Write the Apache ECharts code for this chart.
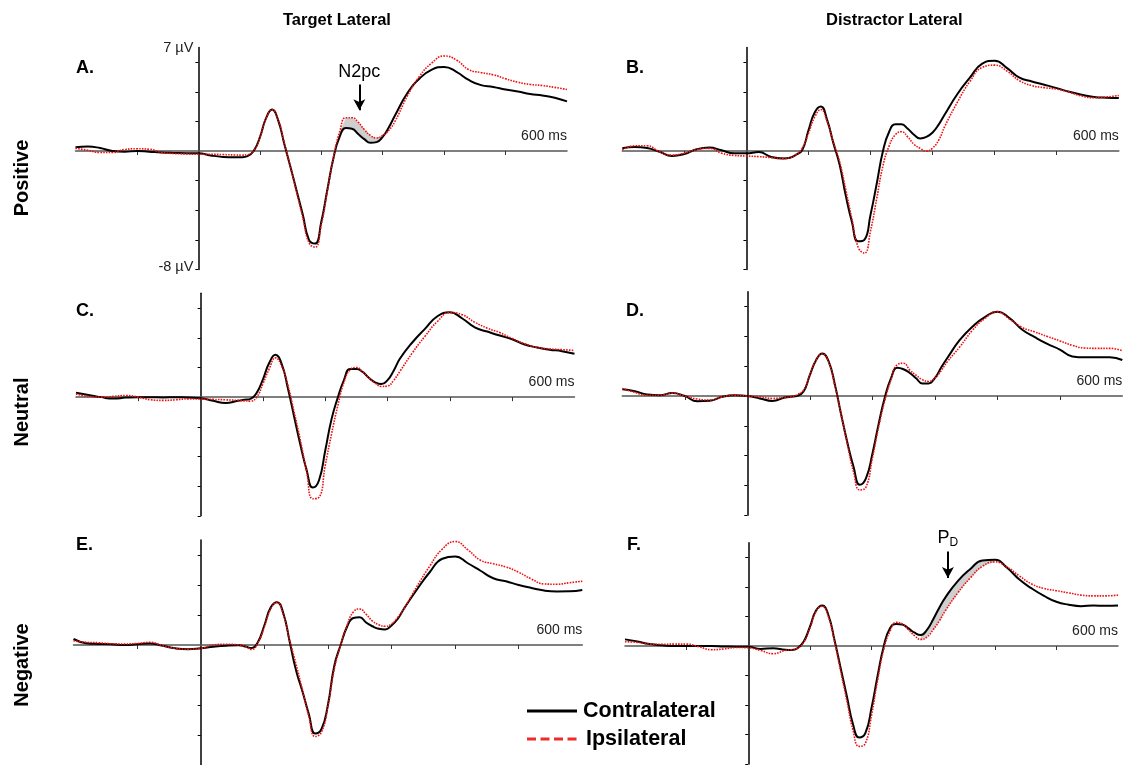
<!DOCTYPE html>
<html>
<head>
<meta charset="utf-8">
<script src="https://cdn.jsdelivr.net/npm/echarts@6/dist/echarts.min.js"></script>
<style>
html, body { margin: 0; padding: 0; background: #fff; }
#chart { width: 1125px; height: 765px; }
</style>
</head>
<body>
<div id="chart"></div>
<script>
// Sample times (ms) shared by every waveform
const times = [-200,-180,-160,-140,-120,-100,-80,-60,-40,-20,0,20,40,60,
  70,80,90,100,110,120,130,140,150,160,170,180,190,200,210,220,230,240,250,260,270,280,290,300,310,320,
  340,360,380,400,420,440,460,480,500,520,540,560,580,600];

// Amplitudes (µV) — Target Lateral / Positive
const contraA = [0.25,0.3,0.2,0.0,-0.05,0.0,-0.05,-0.1,-0.13,-0.15,-0.15,-0.3,-0.4,-0.43,
  -0.42,-0.35,0.0,0.9,2.2,2.8,2.05,0.45,-1.1,-2.7,-4.3,-6.0,-6.25,-4.8,-2.6,-0.45,0.97,1.55,1.5,1.15,0.8,0.55,0.6,0.95,1.6,2.4,
  3.9,4.9,5.5,5.68,5.35,4.8,4.45,4.33,4.15,4.02,3.85,3.75,3.6,3.35];
const ipsiA = [0.18,0.05,-0.1,-0.1,0.1,0.15,0.12,-0.1,-0.17,-0.2,-0.22,-0.22,-0.24,-0.27,
  -0.28,-0.25,0.0,0.9,2.2,2.8,2.1,0.5,-1.1,-2.8,-4.5,-6.2,-6.5,-5.0,-2.7,-0.4,1.3,2.25,2.25,1.95,1.45,1.05,0.88,1.05,1.4,2.0,
  3.7,5.05,5.95,6.42,6.15,5.5,5.3,5.15,4.88,4.65,4.5,4.42,4.3,4.15];

// Distractor Lateral / Positive
const contraB = [0.18,0.27,0.2,-0.05,-0.33,-0.2,0.12,0.23,0.05,-0.16,-0.16,-0.07,-0.4,-0.5,
  -0.45,-0.25,0.07,1.4,2.6,3.0,2.1,0.55,-0.9,-3.0,-4.8,-6.1,-6.0,-4.3,-2.2,0.0,1.3,1.8,1.8,1.5,1.1,0.85,0.95,1.25,1.8,2.5,
  3.85,4.95,5.9,6.1,5.6,4.95,4.7,4.48,4.25,4.0,3.8,3.65,3.6,3.58];
const ipsiB = [0.07,0.35,0.35,-0.05,-0.28,-0.15,0.1,0.18,-0.15,-0.3,-0.34,-0.38,-0.45,-0.5,
  -0.45,-0.25,0.2,1.2,2.3,2.8,2.0,0.6,-0.7,-2.6,-4.6,-6.5,-6.9,-5.4,-3.2,-1.0,0.35,1.1,1.3,0.95,0.45,0.18,-0.02,0.2,0.75,1.7,
  3.3,4.7,5.65,5.8,5.4,4.75,4.42,4.28,4.18,3.98,3.72,3.6,3.65,3.75];

// Target Lateral / Neutral
const contraC = [0.29,0.15,0.0,-0.1,-0.03,0.0,0.0,-0.02,0.0,-0.03,-0.07,-0.25,-0.4,-0.25,
  -0.18,-0.12,0.3,1.2,2.3,2.85,2.25,0.6,-1.3,-3.2,-4.9,-6.1,-5.6,-3.6,-1.5,-0.05,1.15,1.9,1.9,1.7,1.3,1.0,0.88,1.15,1.8,2.6,
  3.7,4.6,5.45,5.72,5.3,4.7,4.42,4.15,3.9,3.55,3.35,3.2,3.1,2.93];
const ipsiC = [0.22,0.05,0.0,0.05,0.11,0.0,-0.18,-0.22,-0.18,-0.12,-0.13,-0.15,-0.18,-0.22,
  -0.25,-0.27,0.0,0.9,1.9,2.65,2.1,0.8,-1.0,-2.9,-5.0,-6.85,-6.75,-4.6,-2.5,-0.6,1.0,1.85,2.0,1.72,1.3,0.95,0.72,0.75,1.15,1.75,
  3.0,4.1,5.1,5.7,5.55,5.05,4.65,4.35,3.95,3.6,3.35,3.25,3.2,3.15];

// Distractor Lateral / Neutral
const contraD = [0.45,0.32,0.1,0.05,0.2,0.0,-0.35,-0.32,-0.05,0.05,0.0,-0.16,-0.33,-0.1,
  -0.04,0.02,0.3,1.4,2.4,2.86,2.35,0.8,-1.2,-3.1,-4.74,-5.95,-5.5,-3.9,-1.9,-0.1,1.2,1.9,1.8,1.55,1.2,0.85,0.85,1.2,1.9,2.55,
  3.76,4.65,5.3,5.65,5.21,4.45,3.95,3.5,3.12,2.66,2.6,2.6,2.6,2.42];
const ipsiD = [0.51,0.25,0.05,0.05,0.2,0.0,-0.2,-0.27,-0.05,0.05,0.0,-0.05,-0.16,-0.1,
  -0.05,0.1,0.4,1.4,2.4,2.82,2.3,0.7,-1.2,-3.2,-5.1,-6.3,-6.1,-4.2,-2.1,-0.3,1.1,2.1,2.2,1.74,1.4,1.1,0.98,1.2,1.7,2.3,
  3.3,4.4,5.2,5.65,5.15,4.6,4.3,4.0,3.7,3.4,3.22,3.2,3.2,3.04];

// Target Lateral / Negative
const contraE = [0.4,0.12,0.07,0.05,0.0,0.05,0.1,-0.05,-0.22,-0.28,-0.22,-0.12,-0.05,-0.02,
  -0.1,-0.2,0.2,1.3,2.5,2.85,2.1,0.2,-1.7,-3.1,-4.6,-5.9,-5.6,-4.0,-1.4,0.0,1.2,1.8,1.85,1.5,1.25,1.08,1.03,1.3,1.75,2.45,
  3.7,4.85,5.75,5.9,5.45,4.95,4.45,4.25,4.0,3.8,3.63,3.57,3.58,3.67];
const ipsiE = [0.29,0.18,0.15,0.08,0.07,0.1,0.18,-0.05,-0.22,-0.28,-0.22,0.0,0.05,0.0,
  -0.1,-0.3,0.15,1.2,2.4,2.85,2.0,0.3,-1.3,-3.0,-4.75,-6.1,-5.8,-4.1,-1.6,0.0,1.3,2.2,2.4,2.05,1.6,1.35,1.25,1.4,1.85,2.45,
  3.9,5.25,6.4,6.9,6.35,5.65,5.42,5.2,4.85,4.4,4.07,4.05,4.15,4.25];

// Distractor Lateral / Negative
const contraF = [0.45,0.3,0.13,0.05,0.0,0.0,0.0,0.0,-0.03,-0.05,-0.05,-0.2,-0.15,-0.25,
  -0.27,-0.15,0.3,1.3,2.4,2.75,2.1,0.4,-1.5,-3.4,-5.3,-6.2,-5.9,-4.2,-2.0,0.0,1.2,1.5,1.45,1.2,0.9,0.75,1.1,1.8,2.6,3.3,
  4.4,5.2,5.8,5.85,5.3,4.5,3.9,3.4,3.0,2.8,2.7,2.75,2.72,2.75];
const ipsiF = [0.29,0.25,0.13,0.12,0.13,0.13,-0.05,-0.25,-0.2,-0.1,-0.12,-0.3,-0.52,-0.3,
  -0.25,-0.15,0.25,1.2,2.35,2.7,2.0,0.3,-1.7,-3.7,-5.7,-6.8,-6.6,-4.7,-2.3,-0.2,1.0,1.6,1.5,1.1,0.7,0.45,0.6,1.1,1.7,2.4,
  3.6,4.6,5.4,5.7,5.35,4.75,4.2,3.9,3.75,3.6,3.45,3.4,3.4,3.45];

// Axis ticks and the few axis labels that are printed
const xTicks = [-100, 100, 200, 300, 400, 500];
const yTicks = [-8, -6, -4, -2, 2, 4, 6];
const xEndLabel = 600;
const yEndLabels = [7, -8];

const FONT = '"Liberation Sans", Arial, Helvetica, sans-serif';

// Panel frames in pixels (left edge = -200 ms, top = +7 µV)
const panels = [
  { letter: 'A.', contra: contraA, ipsi: ipsiA, box: { left: 75.5, top: 47.4, width: 491.5, height: 222 }, yLabels: true,
    shade: [220, 300], note: { text: 'N2pc', t: 262, from: 4.5, to: 2.75 } },
  { letter: 'B.', contra: contraB, ipsi: ipsiB, box: { left: 622.3, top: 47.4, width: 496.5, height: 222 } },
  { letter: 'C.', contra: contraC, ipsi: ipsiC, box: { left: 76, top: 293.3, width: 498.5, height: 222.5 } },
  { letter: 'D.', contra: contraD, ipsi: ipsiD, box: { left: 622.3, top: 291.7, width: 500, height: 223.6 } },
  { letter: 'E.', contra: contraE, ipsi: ipsiE, box: { left: 73.5, top: 540, width: 508.8, height: 227.3 } },
  { letter: 'F.', contra: contraF, ipsi: ipsiF, box: { left: 625, top: 542.7, width: 493, height: 221.4 },
    shade: [280, 400], note: { text: '{p|P}{d|D}', t: 324, from: 6.4, to: 4.6 } }
];

const grids = [], xAxes = [], yAxes = [], series = [];

panels.forEach((p, i) => {
  grids.push(Object.assign({ containLabel: false }, p.box));
  xAxes.push({
    gridIndex: i, type: 'value', min: -200, max: 600, interval: 100,
    axisLine: { onZero: true, lineStyle: { color: '#555', width: 1.5 } },
    axisTick: { show: true, length: 4, customValues: xTicks, lineStyle: { color: '#333', width: 1 } },
    axisLabel: { show: false },
    splitLine: { show: false }
  });
  yAxes.push({
    gridIndex: i, type: 'value', min: -8, max: 7, interval: 2,
    axisLine: { show: true, onZero: true, lineStyle: { color: '#000', width: 1.5 } },
    axisTick: { show: true, length: 3, customValues: yTicks, lineStyle: { color: '#000', width: 1 } },
    axisLabel: { show: false },
    splitLine: { show: false }
  });

  if (p.shade) {
    const idx = times.map((t, k) => k).filter(k => times[k] >= p.shade[0] && times[k] <= p.shade[1]);
    series.push({
      type: 'custom', xAxisIndex: i, yAxisIndex: i, silent: true, z: 1,
      data: [[times[idx[0]], 0]],
      renderItem: (params, api) => {
        const upper = idx.map(k => api.coord([times[k], Math.max(p.contra[k], p.ipsi[k])]));
        const lower = idx.slice().reverse().map(k => api.coord([times[k], Math.min(p.contra[k], p.ipsi[k])]));
        return { type: 'polygon', shape: { points: upper.concat(lower) }, style: { fill: '#cfcfcf' } };
      }
    });
  }

  series.push({
    type: 'line', name: 'Contralateral', xAxisIndex: i, yAxisIndex: i, z: 3,
    data: times.map((t, k) => [t, p.contra[k]]),
    smooth: 0.5, symbol: 'none', silent: true,
    itemStyle: { color: '#000' },
    lineStyle: { color: '#000', width: 2 }
  });

  const ipsi = {
    type: 'line', name: 'Ipsilateral', xAxisIndex: i, yAxisIndex: i, z: 4,
    data: times.map((t, k) => [t, p.ipsi[k]]),
    smooth: 0.5, symbol: 'none', silent: true,
    itemStyle: { color: '#f01010' },
    lineStyle: { color: '#f01010', width: 1.6, type: [1.6, 1.2] }
  };
  if (p.note) {
    ipsi.markLine = {
      silent: true, symbol: ['none', 'arrow'], symbolSize: [9, 11], animation: false,
      lineStyle: { color: '#000', width: 2, type: 'solid' },
      label: { show: true, position: 'start', distance: 3, formatter: p.note.text, color: '#000',
        fontSize: 18, fontFamily: FONT,
        rich: { p: { fontSize: 18, fontFamily: FONT, color: '#000' },
                d: { fontSize: 12, fontFamily: FONT, color: '#000', padding: [10, 0, 0, 0] } } },
      data: [[{ coord: [p.note.t, p.note.from] }, { coord: [p.note.t, p.note.to] }]]
    };
  }
  series.push(ipsi);
});

const bold = (size) => ({ fontSize: size, fontWeight: 'bold', fontFamily: FONT, fill: '#000' });
const graphics = [
  { type: 'text', left: 283, top: 12, style: Object.assign({ text: 'Target Lateral' }, bold(16.5)) },
  { type: 'text', left: 826, top: 12, style: Object.assign({ text: 'Distractor Lateral' }, bold(16.5)) },
  { type: 'text', x: 22, y: 178, rotation: Math.PI / 2,
    style: Object.assign({ text: 'Positive', align: 'center', verticalAlign: 'middle' }, bold(20)) },
  { type: 'text', x: 22, y: 412, rotation: Math.PI / 2,
    style: Object.assign({ text: 'Neutral', align: 'center', verticalAlign: 'middle' }, bold(20)) },
  { type: 'text', x: 22, y: 665, rotation: Math.PI / 2,
    style: Object.assign({ text: 'Negative', align: 'center', verticalAlign: 'middle' }, bold(20)) },
  // legend
  { type: 'line', shape: { x1: 527, y1: 711, x2: 577, y2: 711 }, style: { stroke: '#000', lineWidth: 3 } },
  { type: 'text', x: 583, y: 711, style: Object.assign({ text: 'Contralateral', verticalAlign: 'middle' }, bold(21.5)) },
  { type: 'line', shape: { x1: 527, y1: 739, x2: 577, y2: 739 },
    style: { stroke: '#f02a2a', lineWidth: 3, lineDash: [9, 4.5] } },
  { type: 'text', x: 586, y: 739, style: Object.assign({ text: 'Ipsilateral', verticalAlign: 'middle' }, bold(21.5)) }
];
const letterPos = [[76, 59], [626, 59], [76, 302], [626, 302], [76, 536], [627, 536]];
panels.forEach((p, i) => {
  graphics.push({ type: 'text', left: letterPos[i][0], top: letterPos[i][1],
    style: Object.assign({ text: p.letter }, bold(18)) });
});

const chart = echarts.init(document.getElementById('chart'), null, { renderer: 'canvas' });
chart.setOption({
  animation: false,
  backgroundColor: '#fff',
  grid: grids,
  xAxis: xAxes,
  yAxis: yAxes,
  series: series,
  graphic: graphics
});

// Axis end labels, placed at the axis values they name
const axisTexts = [];
panels.forEach((p, i) => {
  const end = chart.convertToPixel({ gridIndex: i }, [xEndLabel, 0]);
  axisTexts.push({ type: 'text', x: end[0], y: end[1] - 8,
    style: { text: xEndLabel + ' ms', align: 'right', verticalAlign: 'bottom',
      fontSize: 14, fontFamily: FONT, fill: '#222' } });
  if (p.yLabels) {
    yEndLabels.forEach(v => {
      const pt = chart.convertToPixel({ gridIndex: i }, [0, v]);
      axisTexts.push({ type: 'text', x: pt[0] - 5, y: pt[1] + (v > 0 ? 1 : -2),
        style: { text: v + ' µV', align: 'right', verticalAlign: 'middle',
          fontSize: 14.5, fontFamily: FONT, fill: '#222' } });
    });
  }
});
chart.setOption({ graphic: graphics.concat(axisTexts) }, { replaceMerge: ['graphic'] });
</script>
</body>
</html>
